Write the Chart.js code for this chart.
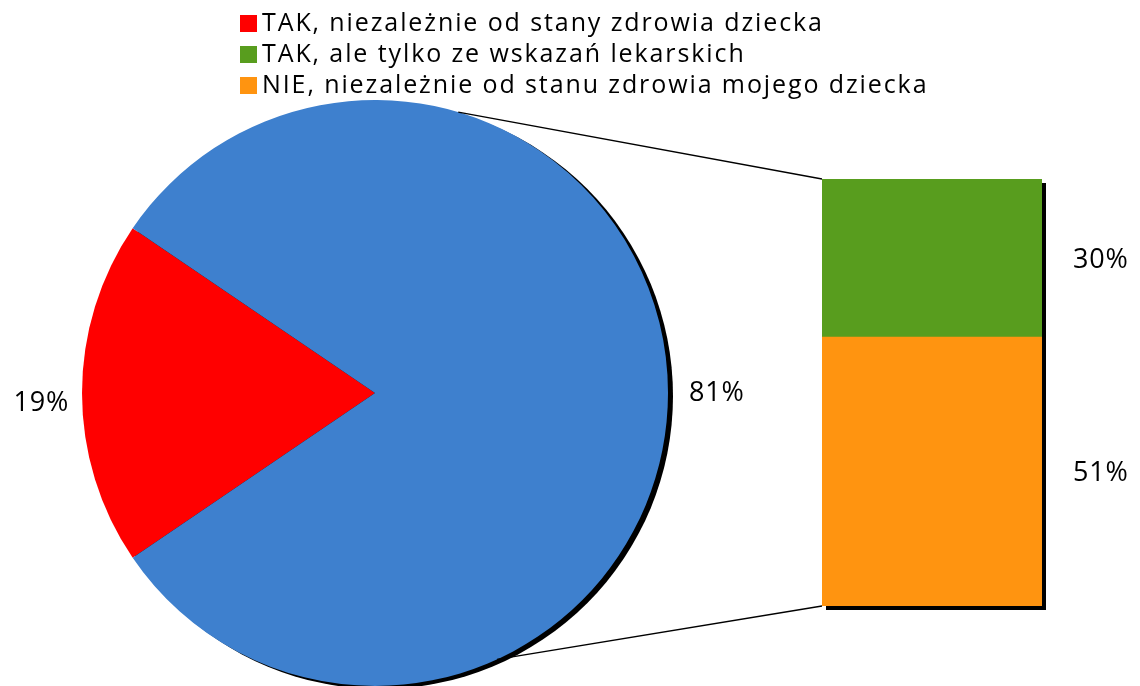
<!DOCTYPE html>
<html lang="pl">
<head>
<meta charset="utf-8">
<title>Bar of pie</title>
<script src="https://cdn.jsdelivr.net/npm/chart.js@4/dist/chart.umd.min.js"></script>
<style>
  html, body { margin: 0; padding: 0; background: #ffffff; }
  #wrap { position: relative; width: 1140px; height: 686px; }
  #wrap canvas { position: absolute; left: 0; top: 0; }
</style>
</head>
<body>
<div id="wrap">
  <canvas id="pieCanvas" width="1140" height="686"></canvas>
  <canvas id="barCanvas" width="1140" height="686"></canvas>
</div>
<script>
// Answers shown in the pie (the second slice is split into the bar)
const pieCategories = ['TAK, niezależnie od stany zdrowia dziecka', 'Pozostałe'];
const pieValues = [19, 81];

// Breakdown of the second slice, bottom segment first
const barCategories = ['NIE, niezależnie od stanu zdrowia mojego dziecka', 'TAK, ale tylko ze wskazań lekarskich'];
const barValues = [51, 30];

// Legend entries, top to bottom
const legendLabels = [
  'TAK, niezależnie od stany zdrowia dziecka',
  'TAK, ale tylko ze wskazań lekarskich',
  'NIE, niezależnie od stanu zdrowia mojego dziecka'
];

const RED = '#ff0000';
const BLUE = '#3e80ce';
const GREEN = '#589d1e';
const ORANGE = '#ff9410';
const legendColors = [RED, GREEN, ORANGE];

const FONT = '"Open Sans", "Noto Sans", "DejaVu Sans", sans-serif';

// Black drop shadow behind the pie and the value labels around it
const pieDecor = {
  id: 'pieDecor',
  beforeDatasetsDraw(chart) {
    const arc = chart.getDatasetMeta(0).data[0];
    if (!arc) return;
    const ctx = chart.ctx;
    ctx.save();
    ctx.fillStyle = '#000000';
    ctx.beginPath();
    ctx.arc(arc.x + 5, arc.y + 3, arc.outerRadius, 0, Math.PI * 2);
    ctx.fill();
    ctx.restore();
  },
  afterDatasetsDraw(chart) {
    const ctx = chart.ctx;
    const meta = chart.getDatasetMeta(0);
    ctx.save();
    ctx.font = '27px ' + FONT;
    if ('letterSpacing' in ctx) ctx.letterSpacing = '0.8px';
    ctx.fillStyle = '#000000';
    ctx.textBaseline = 'middle';
    meta.data.forEach((arc, i) => {
      const mid = (arc.startAngle + arc.endAngle) / 2;
      const c = Math.cos(mid), s = Math.sin(mid);
      const gap = c >= 0 ? 21 : 13;
      const px = arc.x + c * (arc.outerRadius + gap);
      const py = arc.y + s * (arc.outerRadius + gap);
      ctx.textAlign = c >= 0 ? 'left' : 'right';
      ctx.fillText(pieValues[i] + '%', px, py + (c >= 0 ? 0 : 10));
    });
    ctx.restore();
  }
};

const pieChart = new Chart(document.getElementById('pieCanvas'), {
  type: 'pie',
  data: {
    labels: pieCategories,
    datasets: [{
      data: pieValues,
      backgroundColor: [RED, BLUE],
      borderWidth: 0
    }]
  },
  options: {
    responsive: false,
    animation: false,
    // first slice centred on the left side
    rotation: 270 - pieValues[0] / (pieValues[0] + pieValues[1]) * 180,
    layout: { padding: { left: 81, top: 100, right: 471, bottom: 0 } },
    plugins: { legend: { display: false }, tooltip: { enabled: false } }
  },
  plugins: [pieDecor]
});

// Shadow, connector lines, segment labels and the legend
const barDecor = {
  id: 'barDecor',
  beforeDatasetsDraw(chart) {
    const ctx = chart.ctx;
    const bottomBar = chart.getDatasetMeta(0).data[0];
    const topBar = chart.getDatasetMeta(chart.data.datasets.length - 1).data[0];
    const left = bottomBar.x - bottomBar.width / 2;
    const right = bottomBar.x + bottomBar.width / 2;
    ctx.save();
    ctx.fillStyle = '#000000';
    ctx.fillRect(left + 4, topBar.y + 4, right - left, bottomBar.base - topBar.y);
    ctx.restore();
  },
  afterDatasetsDraw(chart) {
    const ctx = chart.ctx;
    const n = chart.data.datasets.length;
    const bottomBar = chart.getDatasetMeta(0).data[0];
    const topBar = chart.getDatasetMeta(n - 1).data[0];
    const left = bottomBar.x - bottomBar.width / 2;
    const right = bottomBar.x + bottomBar.width / 2;

    // connector lines from the pie rim to the bar corners
    const arc = pieChart.getDatasetMeta(0).data[1];
    const rim = (deg) => {
      const t = deg * Math.PI / 180;
      return [arc.x + Math.cos(t) * arc.outerRadius, arc.y + Math.sin(t) * arc.outerRadius];
    };
    const p1 = rim(-73.5), p2 = rim(65.4);
    ctx.save();
    ctx.strokeStyle = '#000000';
    ctx.lineWidth = 1.3;
    ctx.beginPath();
    ctx.moveTo(p1[0], p1[1]);
    ctx.lineTo(left, topBar.y);
    ctx.moveTo(p2[0], p2[1]);
    ctx.lineTo(left, bottomBar.base);
    ctx.stroke();

    // segment value labels
    ctx.font = '27px ' + FONT;
    if ('letterSpacing' in ctx) ctx.letterSpacing = '0.8px';
    ctx.fillStyle = '#000000';
    ctx.textAlign = 'left';
    ctx.textBaseline = 'middle';
    for (let i = 0; i < n; i++) {
      const bar = chart.getDatasetMeta(i).data[0];
      ctx.fillText(barValues[i] + '%', right + 31, (bar.y + bar.base) / 2 + 2);
    }

    // legend
    ctx.font = '25px ' + FONT;
    if ('letterSpacing' in ctx) ctx.letterSpacing = '1.9px';
    legendLabels.forEach((label, i) => {
      const cy = 24 + i * 31;
      ctx.fillStyle = legendColors[i];
      ctx.fillRect(240, cy - 9, 17, 17);
      ctx.fillStyle = '#000000';
      ctx.fillText(label, 262, cy);
    });
    ctx.restore();
  }
};

new Chart(document.getElementById('barCanvas'), {
  type: 'bar',
  data: {
    labels: [pieCategories[1]],
    datasets: [
      { label: barCategories[0], data: [barValues[0]], backgroundColor: ORANGE, borderWidth: 0 },
      { label: barCategories[1], data: [barValues[1]], backgroundColor: GREEN, borderWidth: 0 }
    ]
  },
  options: {
    responsive: false,
    animation: false,
    layout: { padding: { left: 822, right: 98, top: 179, bottom: 80 } },
    datasets: { bar: { barPercentage: 1, categoryPercentage: 1 } },
    scales: {
      x: { stacked: true, display: false },
      y: { stacked: true, display: false, min: 0, max: barValues[0] + barValues[1] }
    },
    plugins: { legend: { display: false }, tooltip: { enabled: false } }
  },
  plugins: [barDecor]
});
</script>
</body>
</html>
